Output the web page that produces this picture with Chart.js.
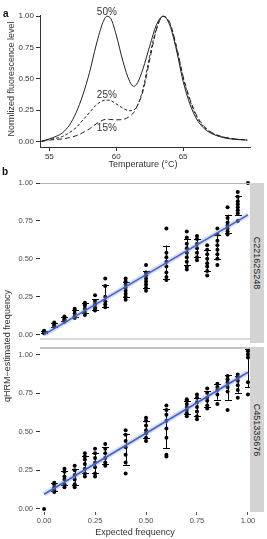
<!DOCTYPE html>
<html>
<head>
<meta charset="utf-8">
<script src="https://cdn.jsdelivr.net/npm/chart.js@4.4.0/dist/chart.umd.min.js"></script>
<style>
  html, body { margin: 0; padding: 0; background: #fff; }
  body { width: 267px; height: 539px; position: relative; overflow: hidden; font-family: "Liberation Sans", Arial, sans-serif; }
  canvas { position: absolute; left: 0; }
  .t { position: absolute; white-space: nowrap; color: #333; font-size: 9px; transform: translate(-50%, -50%); }
  .rot { transform: translate(-50%, -50%) rotate(-90deg); }
  .lbl { position: absolute; font-weight: bold; font-size: 10px; color: #111; }
  .strip { position: absolute; left: 250px; width: 14px; background: #d3d3d3; }
  .strip span { position: absolute; left: 50%; top: 50%; transform: translate(-50%, -50%) rotate(90deg); white-space: nowrap; font-size: 9px; color: #1a1a1a; }
</style>
</head>
<body>
<canvas id="cA" width="267" height="175" style="top:0"></canvas>
<canvas id="cB1" width="267" height="172" style="top:175px"></canvas>
<canvas id="cB2" width="267" height="199" style="top:340px"></canvas>

<div class="lbl" style="left:3px;top:8px">a</div>
<div class="lbl" style="left:2px;top:166px">b</div>
<div class="t rot" style="left:10.5px;top:79px">Normlized fluorescence level</div>
<div class="t" style="left:143px;top:164px">Temperature (°C)</div>
<div class="t rot" style="left:6.5px;top:346px">qHRM−estimated frequency</div>
<div class="t" style="left:135px;top:532px">Expected frequency</div>
<div class="strip" style="top:183px;height:160px"><span>C22162S248</span></div>
<div class="strip" style="top:347px;height:165px"><span>C45133S676</span></div>

<script>
// panel a: normalized melting curves
const temps = [54.4, 55, 55.5, 56, 56.5, 57, 57.5, 58, 58.5, 59, 59.3, 59.6, 60, 60.5, 61, 61.3, 61.6, 62, 62.5, 63, 63.5, 64, 64.5, 65, 65.5, 66, 66.5, 67, 68, 69, 69.8];
const curve50 = [0, 0.02, 0.04, 0.07, 0.13, 0.23, 0.37, 0.55, 0.77, 0.95, 1.0, 0.98, 0.85, 0.64, 0.48, 0.44, 0.47, 0.58, 0.76, 0.93, 1.0, 0.93, 0.73, 0.48, 0.3, 0.18, 0.11, 0.07, 0.03, 0.015, 0.01];
const curve25 = [0, 0.015, 0.025, 0.04, 0.07, 0.11, 0.17, 0.23, 0.29, 0.325, 0.33, 0.325, 0.3, 0.265, 0.245, 0.25, 0.29, 0.42, 0.68, 0.9, 1.0, 0.94, 0.75, 0.51, 0.33, 0.2, 0.12, 0.075, 0.035, 0.018, 0.012];
const curve15 = [0, 0.01, 0.015, 0.02, 0.03, 0.045, 0.07, 0.1, 0.14, 0.17, 0.178, 0.175, 0.172, 0.175, 0.2, 0.23, 0.29, 0.4, 0.65, 0.89, 1.0, 0.95, 0.76, 0.52, 0.34, 0.21, 0.13, 0.08, 0.035, 0.018, 0.012];
const curveNames = ['50%', '25%', '15%'];
const tempTicks = [55, 60, 65];
const levelTicks = [0, 0.25, 0.5, 0.75, 1];

// panel b: estimated vs expected frequency
const freqX = [0, 0.05, 0.1, 0.15, 0.2, 0.25, 0.3, 0.4, 0.5, 0.6, 0.7, 0.75, 0.8, 0.85, 0.9, 0.95, 1];
const c22Est = [
  [0.01, 0.015, 0.02, 0.025],
  [0.05, 0.06, 0.07, 0.08],
  [0.085, 0.095, 0.1, 0.11, 0.12],
  [0.11, 0.12, 0.14, 0.16, 0.17],
  [0.13, 0.15, 0.17, 0.19, 0.2, 0.21],
  [0.16, 0.17, 0.18, 0.2, 0.22, 0.26],
  [0.18, 0.2, 0.22, 0.25, 0.32, 0.37],
  [0.23, 0.25, 0.27, 0.29, 0.31, 0.33, 0.35, 0.37],
  [0.29, 0.31, 0.33, 0.35, 0.37, 0.39, 0.41, 0.46],
  [0.36, 0.38, 0.41, 0.45, 0.48, 0.51, 0.54, 0.7],
  [0.43, 0.45, 0.48, 0.51, 0.54, 0.57, 0.6, 0.64, 0.68],
  [0.49, 0.51, 0.54, 0.57, 0.6, 0.63, 0.65],
  [0.39, 0.42, 0.45, 0.47, 0.5, 0.53, 0.56, 0.59],
  [0.46, 0.5, 0.53, 0.56, 0.59, 0.62, 0.66, 0.7],
  [0.66, 0.68, 0.7, 0.72, 0.74, 0.77, 0.84],
  [0.75, 0.8, 0.82, 0.84, 0.86, 0.88, 0.91, 0.94],
  [1.0]
];
const c45Est = [
  [0.0],
  [0.11, 0.12, 0.14, 0.16, 0.17],
  [0.14, 0.16, 0.19, 0.21, 0.24, 0.26],
  [0.14, 0.16, 0.19, 0.22, 0.25, 0.28],
  [0.21, 0.23, 0.26, 0.29, 0.32, 0.34, 0.36],
  [0.21, 0.23, 0.27, 0.3, 0.33, 0.36, 0.39],
  [0.28, 0.3, 0.33, 0.36, 0.39, 0.42],
  [0.23, 0.3, 0.35, 0.4, 0.44, 0.48, 0.51],
  [0.44, 0.46, 0.49, 0.51, 0.54, 0.57, 0.59],
  [0.34, 0.35, 0.46, 0.52, 0.57, 0.61, 0.64, 0.67],
  [0.6, 0.62, 0.64, 0.66, 0.68, 0.7, 0.71],
  [0.58, 0.6, 0.63, 0.66, 0.69, 0.72, 0.74],
  [0.65, 0.67, 0.7, 0.72, 0.75, 0.78],
  [0.68, 0.74, 0.77, 0.79, 0.81],
  [0.64, 0.76, 0.79, 0.82, 0.84, 0.86],
  [0.72, 0.77, 0.8, 0.83, 0.85, 0.87],
  [0.74, 0.82, 0.98, 1.0, 1.02]
];
// fitted line: value at x = 0 and at x = 1
const c22Fit = [0.0, 0.79];
const c45Fit = [0.095, 0.885];
const freqTicks = [0, 0.25, 0.5, 0.75, 1];

const fixTicks = (vals) => (s) => { s.ticks = vals.map(v => ({ value: v })); };

// text labels next to the melting curves
const curveLabels = {
  id: 'curveLabels',
  afterDraw(chart) {
    const { ctx, scales: { x, y } } = chart;
    const at = [[59.3, 1.035], [59.3, 0.37], [59.3, 0.107]];
    ctx.save();
    ctx.font = '10px "Liberation Sans", Arial, sans-serif';
    ctx.fillStyle = '#333';
    ctx.textAlign = 'center';
    ctx.textBaseline = 'middle';
    curveNames.forEach((n, i) => ctx.fillText(n, x.getPixelForValue(at[i][0]), y.getPixelForValue(at[i][1])));
    ctx.restore();
  }
};

const lineDs = (data, dash) => ({
  data: temps.map((t, i) => ({ x: t, y: data[i] })),
  borderColor: '#222', borderWidth: 1, borderDash: dash,
  pointRadius: 0, cubicInterpolationMode: 'monotone', fill: false
});

new Chart(document.getElementById('cA'), {
  type: 'line',
  data: { datasets: [lineDs(curve50, []), lineDs(curve25, [3, 2]), lineDs(curve15, [5, 3])] },
  options: {
    animation: false, responsive: false,
    layout: { padding: { top: 15, right: 17, left: 0, bottom: 0 } },
    plugins: { legend: { display: false }, tooltip: { enabled: false } },
    scales: {
      x: {
        type: 'linear', min: 54.3, max: 70,
        afterBuildTicks: fixTicks(tempTicks),
        afterFit: s => { s.height = 28; },
        grid: { drawOnChartArea: false, tickLength: 4, color: '#333' },
        border: { color: '#333' },
        ticks: { font: { size: 8 }, color: '#333', padding: 1, maxRotation: 0 }
      },
      y: {
        min: -0.045, max: 1.01,
        afterBuildTicks: fixTicks(levelTicks),
        afterFit: s => { s.width = 40; },
        grid: { drawOnChartArea: false, tickLength: 4, color: '#333' },
        border: { color: '#333' },
        ticks: { font: { size: 8 }, color: '#333', padding: 2, callback: v => v.toFixed(2) }
      }
    }
  },
  plugins: [curveLabels]
});

// mean +/- sd error bars and panel frame lines
const errBars = {
  id: 'errBars',
  beforeDatasetsDraw(chart, args, opts) {
    const { ctx, scales: { x, y } } = chart;
    ctx.save();
    ctx.strokeStyle = '#000';
    ctx.lineWidth = 1;
    opts.groups.forEach((g, i) => {
      if (g.length < 2) return;
      const m = g.reduce((a, b) => a + b, 0) / g.length;
      const sd = Math.sqrt(g.reduce((a, b) => a + (b - m) * (b - m), 0) / (g.length - 1));
      const px = Math.round(x.getPixelForValue(freqX[i])) + 0.5;
      const y1 = y.getPixelForValue(m - sd), y2 = y.getPixelForValue(m + sd);
      ctx.beginPath();
      ctx.moveTo(px, y1); ctx.lineTo(px, y2);
      ctx.moveTo(px - 3.5, Math.round(y1) + 0.5); ctx.lineTo(px + 3.5, Math.round(y1) + 0.5);
      ctx.moveTo(px - 3.5, Math.round(y2) + 0.5); ctx.lineTo(px + 3.5, Math.round(y2) + 0.5);
      ctx.stroke();
    });
    ctx.restore();
  },
  afterDraw(chart, args, opts) {
    const { ctx, chartArea: a } = chart;
    ctx.save();
    ctx.lineWidth = 1;
    if (opts.topLine) {
      ctx.strokeStyle = opts.topLine;
      ctx.beginPath(); ctx.moveTo(a.left, a.top + 0.5); ctx.lineTo(a.right, a.top + 0.5); ctx.stroke();
    }
    if (opts.bottomLine) {
      ctx.strokeStyle = opts.bottomLine;
      ctx.beginPath(); ctx.moveTo(a.left, a.bottom - 0.5); ctx.lineTo(a.right, a.bottom - 0.5); ctx.stroke();
    }
    ctx.restore();
  }
};

function facet(id, est, fit, o) {
  const pts = [];
  est.forEach((g, i) => g.forEach(v => pts.push({ x: freqX[i], y: v })));
  const fitPts = [{ x: 0, y: fit[0] }, { x: 1, y: fit[1] }];
  return new Chart(document.getElementById(id), {
    type: 'scatter',
    data: {
      datasets: [
        { data: fitPts, showLine: true, borderColor: '#3d63d6', borderWidth: 1.6, pointRadius: 0 },
        { data: fitPts, showLine: true, borderColor: 'rgba(150,160,190,0.35)', borderWidth: 5, pointRadius: 0 },
        { data: pts, pointRadius: 2, pointBackgroundColor: '#000', pointBorderWidth: 0, clip: false }
      ]
    },
    options: {
      animation: false, responsive: false,
      layout: { padding: { top: o.padTop, right: 17, left: 0, bottom: o.padBottom } },
      plugins: {
        legend: { display: false }, tooltip: { enabled: false },
        errBars: { groups: est, topLine: o.topLine, bottomLine: o.bottomLine }
      },
      scales: {
        x: {
          type: 'linear', min: -0.02, max: 1.01, display: o.showX,
          afterBuildTicks: fixTicks(freqTicks),
          afterFit: s => { s.height = o.showX ? 27 : 0; },
          grid: { drawOnChartArea: false, tickLength: 3, color: '#555' },
          border: { display: false },
          ticks: { font: { size: 7.5 }, color: '#4d4d4d', padding: 1, maxRotation: 0, callback: v => v.toFixed(2) }
        },
        y: {
          min: o.yMin, max: o.yMax,
          afterBuildTicks: fixTicks(freqTicks),
          afterFit: s => { s.width = 40; },
          grid: { drawOnChartArea: false, tickLength: 4, color: '#333' },
          border: { display: false },
          ticks: { font: { size: 7.5 }, color: '#4d4d4d', padding: 3, callback: v => v.toFixed(2) }
        }
      }
    },
    plugins: [errBars]
  });
}

facet('cB1', c22Est, c22Fit, { padTop: 8, padBottom: 4, showX: false, yMin: -0.032, yMax: 1.0, topLine: '#b5b5b5', bottomLine: '#b5b5b5' });
facet('cB2', c45Est, c45Fit, { padTop: 6, padBottom: 0, showX: true, yMin: -0.02, yMax: 1.045, topLine: '#8a8a8a', bottomLine: null });
</script>
</body>
</html>
